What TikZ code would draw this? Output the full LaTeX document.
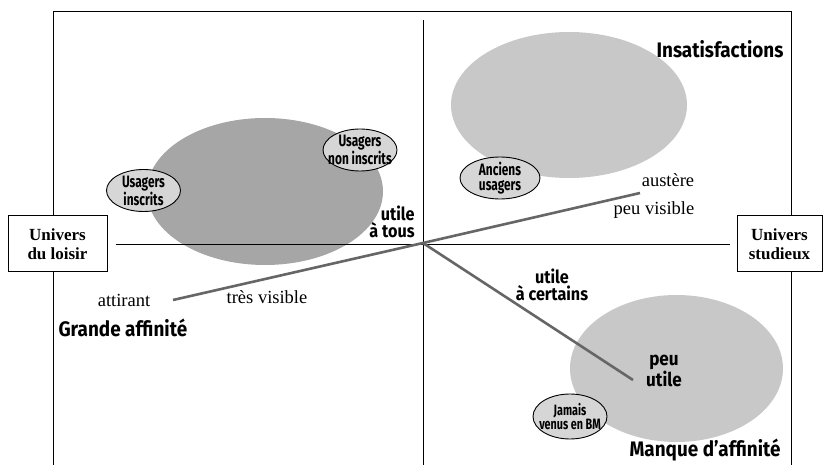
\documentclass[tikz,border=0pt]{standalone}
\usepackage{fontspec}
\setmainfont{Liberation Serif}
\newfontfamily\dinfont[FakeStretch=0.9]{Fira Sans}
\newfontfamily\dincond[FakeStretch=0.72]{Fira Sans}
\usetikzlibrary{shapes.geometric}
\definecolor{darkblob}{HTML}{A6A6A6}
\definecolor{lightblob}{HTML}{C8C8C8}
\definecolor{tagfill}{HTML}{D6D6D6}
\definecolor{axegris}{HTML}{666666}
\begin{document}
\begin{tikzpicture}[
x=1pt,y=-1pt,
blob/.style={ellipse,inner sep=0pt},
tag/.style={ellipse,draw,fill=tagfill,line width=0.9pt,minimum width=74pt,minimum height=42pt,inner xsep=-14pt,inner ysep=-7pt,align=center,font=\dincond\bfseries\fontsize{16.5}{15.5}\selectfont},
univers/.style={draw,fill=white,line width=1pt,align=center,inner sep=0pt,minimum height=56pt,font=\bfseries\fontsize{17}{19}\selectfont},
serif/.style={font=\fontsize{18.5}{20}\selectfont},
gras/.style={align=center,font=\dinfont\bfseries\fontsize{18}{17}\selectfont},
titre/.style={font=\dinfont\bfseries\fontsize{21}{21}\selectfont},
trait/.style={draw=axegris,line width=2.6pt}
]
\useasboundingbox (0,0) rectangle (823,465);
\draw[line width=0.8pt] (53,465) -- (53,11) -- (791,11) -- (791,465);
\node[blob,fill=darkblob,minimum width=236pt,minimum height=147pt] (loisirs) at (265,191.5) {};
\node[blob,fill=lightblob,minimum width=236pt,minimum height=146pt] (insat) at (569,105) {};
\node[blob,fill=lightblob,minimum width=213pt,minimum height=147pt] (manque) at (676.5,368.5) {};
\node[univers,minimum width=99pt] (loisir) at (57.5,244) {Univers\\du loisir};
\node[univers,minimum width=85pt] (studieux) at (779.5,244) {Univers\\studieux};
\coordinate (O) at (423,243);
\coordinate (haut) at (423,20);
\coordinate (bas) at (423,465);
\draw[line width=0.8pt] ([xshift=8pt]loisir.east) -- ([xshift=-7pt]studieux.west);
\draw[line width=0.8pt] (haut) -- (bas);
\coordinate (attire) at (173,300);
\coordinate (austere) at (640,193);
\coordinate (peuutile) at (633,380);
\draw[trait] (attire) -- (O) -- (austere);
\draw[trait] (O) -- (peuutile);
\node[tag] (inscrits) at (143.5,190.5) {Usagers\\inscrits};
\node[tag] (noninscrits) at (360,150) {Usagers\\non inscrits};
\node[tag,minimum width=80pt] (anciens) at (500,178) {Anciens\\usagers};
\node[tag,minimum height=45pt,font=\dincond\bfseries\fontsize{15}{14.5}\selectfont] (jamais) at (570,416.5) {Jamais\\venus en BM};
\node[gras,align=right] (tous) at (392,222) {utile\\à tous};
\node[gras] (certains) at (552,285) {utile\\à certains};
\node[gras,font=\dinfont\bfseries\fontsize{19}{19}\selectfont] (peu) at (664,371) {peu\\utile};
\node[serif] (attirant) at (124,300) {attirant};
\node[serif] (tresvisible) at (267,297) {très visible};
\node[serif] (austeretxt) at (668,180) {austère};
\node[serif] (peuvisible) at (654,210) {peu visible};
\node[titre,anchor=east] (insatisfactions) at (787,49) {Insatisfactions};
\node[titre,anchor=west] (grande) at (55,328) {Grande affinité};
\node[titre,anchor=east] (manqueaff) at (784,450) {Manque d’affinité};
\end{tikzpicture}
\end{document}
